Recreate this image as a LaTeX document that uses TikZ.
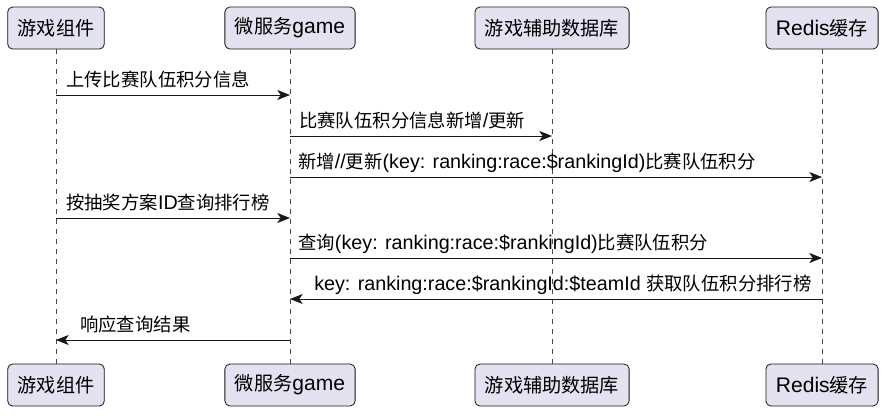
\documentclass[tikz,border=0pt]{standalone}
\usepackage{fontspec}
\setmainfont{Liberation Sans}
\newfontfamily\cjkm{Noto Sans CJK SC}[Scale=0.93]
\newfontfamily\cjkp{Noto Sans CJK SC}[Scale=0.91]
\usetikzlibrary{calc}
\usetikzlibrary{arrows.meta}
\definecolor{boxfill}{HTML}{E2E2F0}
\definecolor{ink}{HTML}{181818}
\newcommand{\zh}[1]{{\cjkm #1}}
\newcommand{\zp}[1]{{\cjkp #1}}
\tikzset{
    actor/.style={draw=ink,fill=boxfill,rounded corners=3.75pt,line width=0.6pt,
        minimum height=31.5pt,inner xsep=7.5pt,font=\fontsize{15.8}{18}\selectfont},
    life/.style={draw=ink!80,line width=0.5pt,dash pattern=on 3.75pt off 3.75pt},
    msg/.style={draw=ink,line width=0.75pt,-{Stealth[length=9.5pt,width=7.5pt,inset=2.5pt]}},
    txt/.style={anchor=base west,inner sep=0pt,font=\fontsize{14.8}{17}\selectfont}
}

\begin{document}
\begin{tikzpicture}[x=0.75pt,y=-0.75pt]
\useasboundingbox (0,0) rectangle (885,415);

\node[actor] (gc) at (56,28) {\zp{游戏组件}};
\node[actor] (svc) at (290,28) {\zp{微服务}game};
\node[actor] (db) at (552,28) {\zp{游戏辅助数据库}};
\node[actor] (rd) at (822,28) {Redis\zp{缓存}};

\node[actor] (gcB) at (56,385) {\zp{游戏组件}};
\node[actor] (svcB) at (290,385) {\zp{微服务}game};
\node[actor] (dbB) at (552,385) {\zp{游戏辅助数据库}};
\node[actor] (rdB) at (822,385) {Redis\zp{缓存}};

\draw[life] (gc) -- (gcB);
\draw[life] (svc) -- (svcB);
\draw[life] (db) -- (dbB);
\draw[life] (rd) -- (rdB);

\coordinate (m1) at (0,95);
\coordinate (m2) at (0,136);
\coordinate (m3) at (0,177);
\coordinate (m4) at (0,218);
\coordinate (m5) at (0,258);
\coordinate (m6) at (0,299);
\coordinate (m7) at (0,340);

\draw[msg] (gc |- m1) -- (svc |- m1);
\node[txt] at ($(gc |- m1)+(10,-9)$) {\zh{上传比赛队伍积分信息}};

\draw[msg] (svc |- m2) -- (db |- m2);
\node[txt] at ($(svc |- m2)+(9,-9)$) {\zh{比赛队伍积分信息新增}/\zh{更新}};

\draw[msg] (svc |- m3) -- (rd |- m3);
\node[txt] at ($(svc |- m3)+(8,-9)$) {\zh{新增}//\zh{更新}(key: ranking:race:\$rankingId)\zh{比赛队伍积分}};

\draw[msg] (gc |- m4) -- (svc |- m4);
\node[txt] at ($(gc |- m4)+(10,-9)$) {\zh{按抽奖方案}ID\zh{查询排行榜}};

\draw[msg] (svc |- m5) -- (rd |- m5);
\node[txt] at ($(svc |- m5)+(8,-9)$) {\zh{查询}(key: ranking:race:\$rankingId)\zh{比赛队伍积分}};

\draw[msg] (rd |- m6) -- (svc |- m6);
\node[txt] at ($(svc |- m6)+(24,-9)$) {key: ranking:race:\$rankingId:\$teamId \zh{获取队伍积分排行榜}};

\draw[msg] (svc |- m7) -- (gc |- m7);
\node[txt] at ($(gc |- m7)+(24,-9)$) {\zh{响应查询结果}};
\end{tikzpicture}
\end{document}
